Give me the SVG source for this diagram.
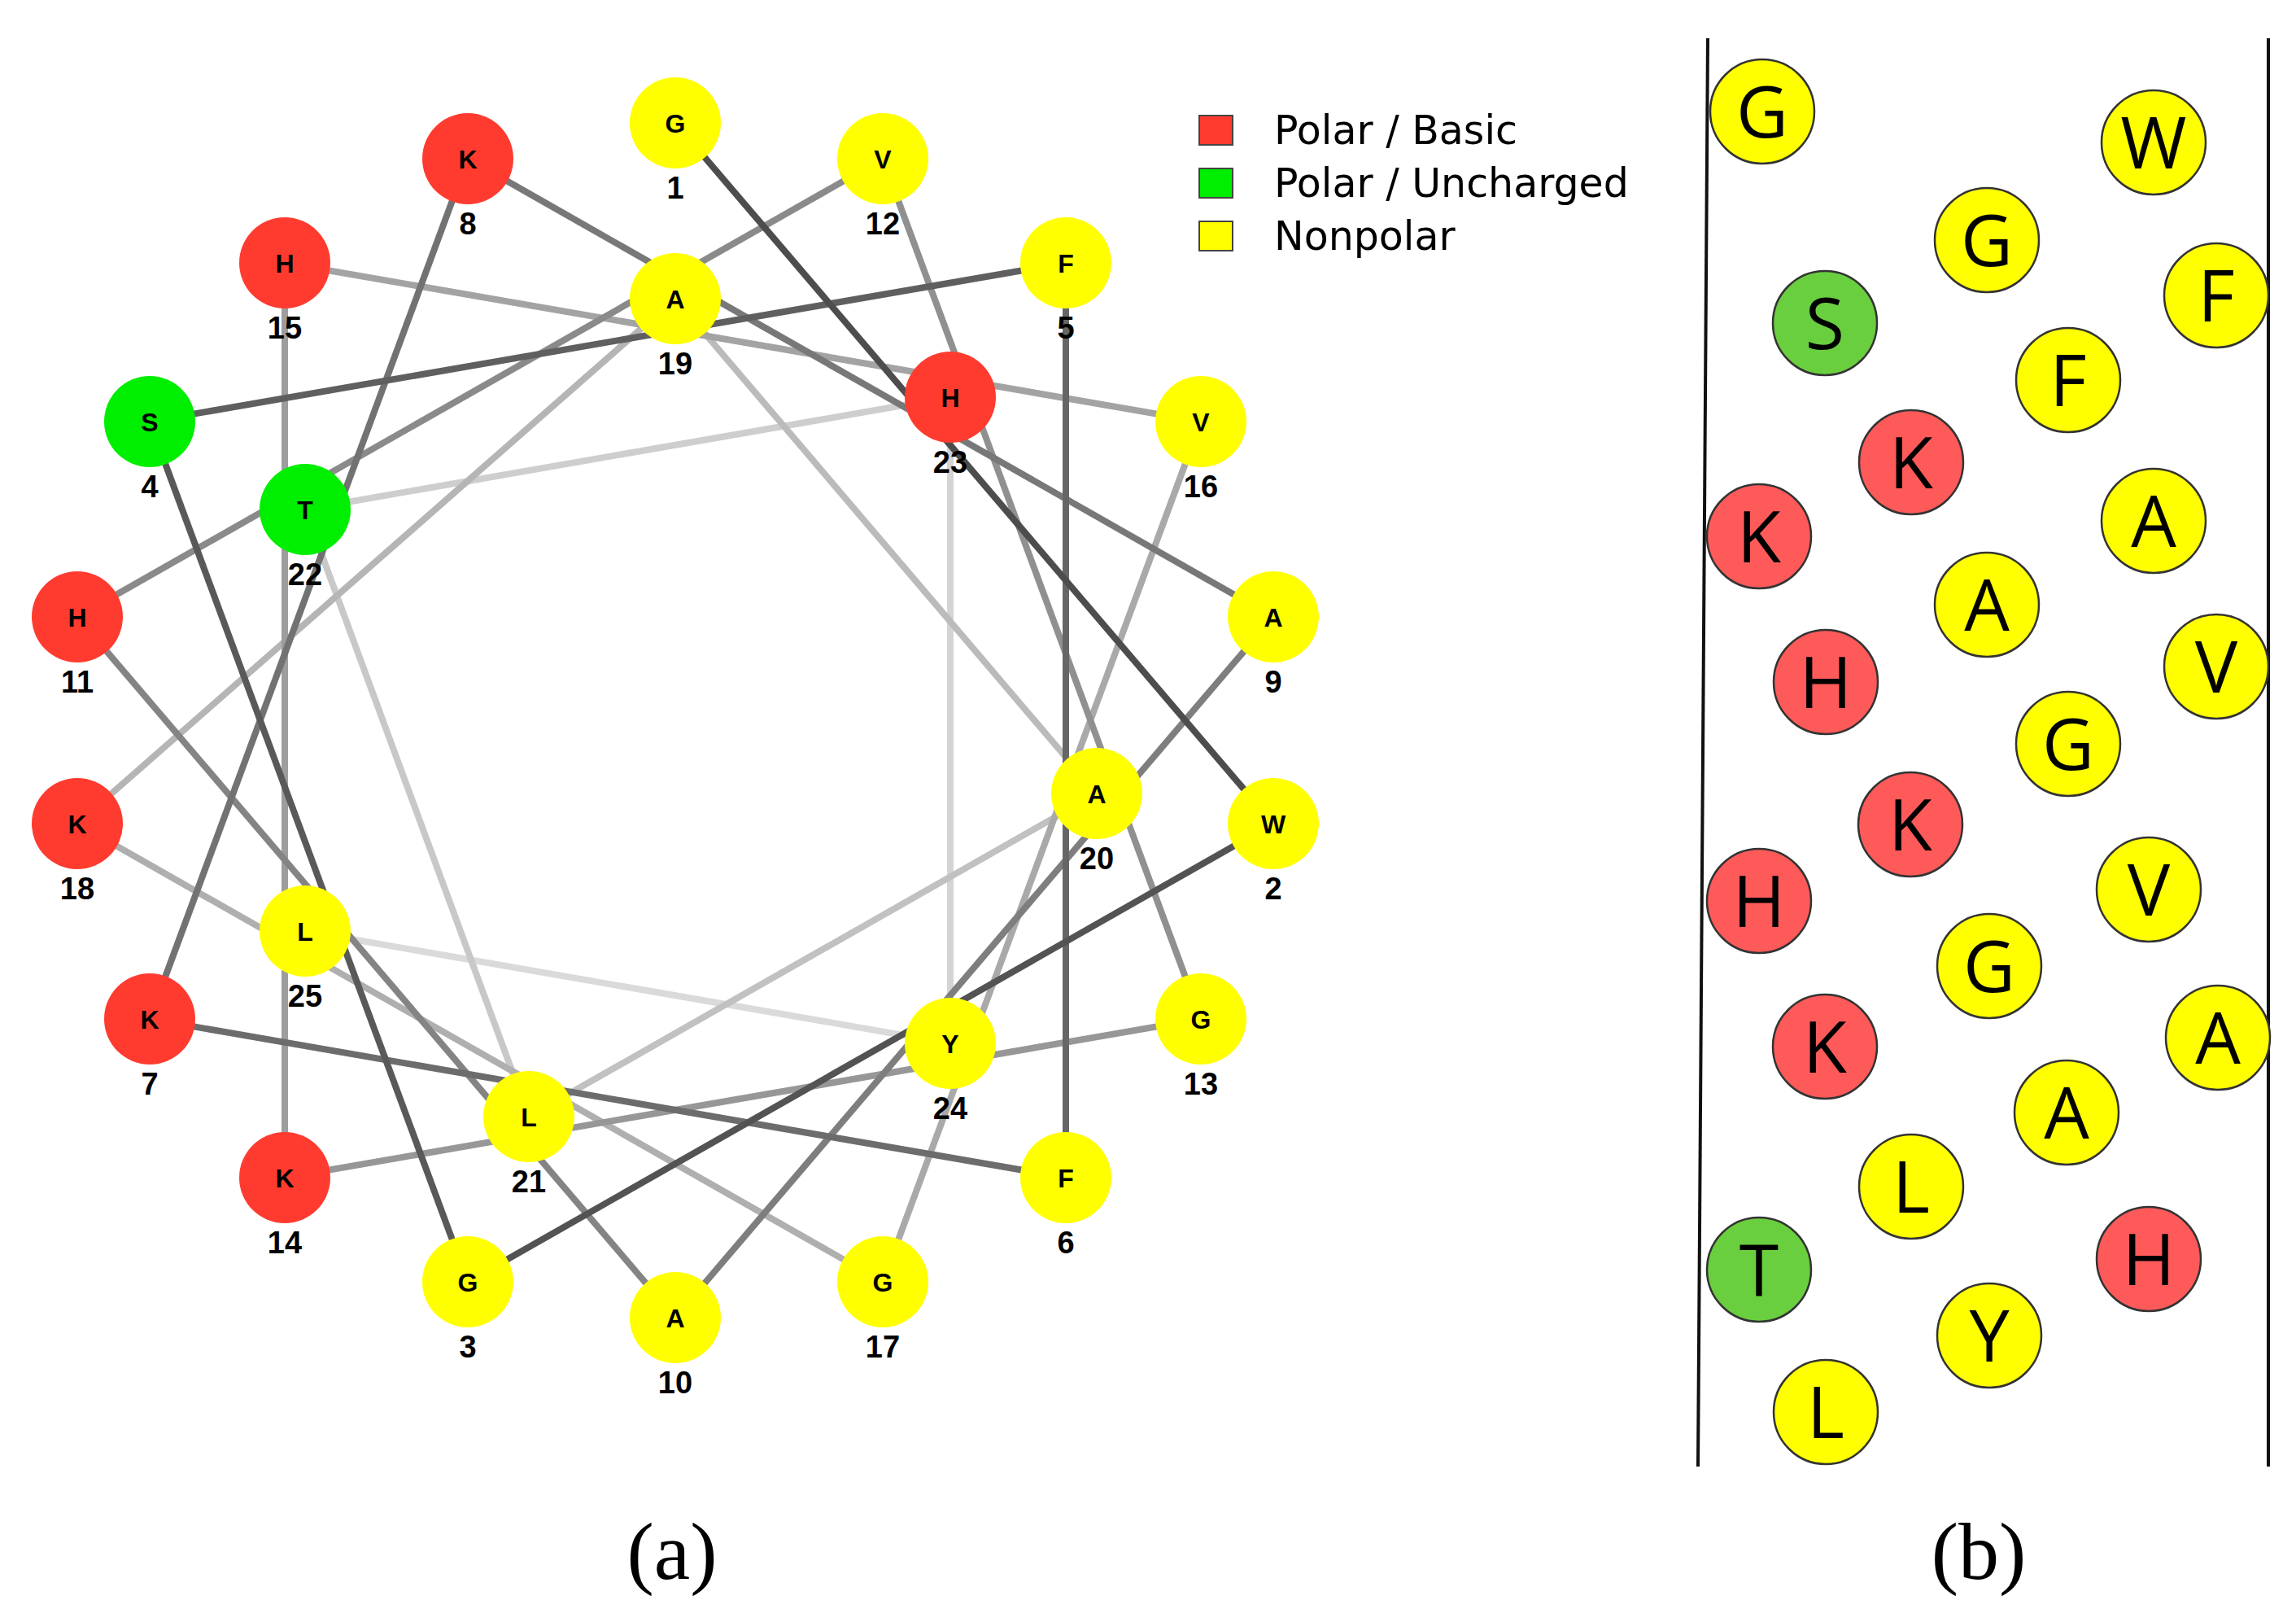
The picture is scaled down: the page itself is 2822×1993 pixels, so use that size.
<svg xmlns="http://www.w3.org/2000/svg" width="2822" height="1993" viewBox="0 0 2822 1993">
<style>
.e{stroke-width:8;stroke-linecap:butt;fill:none}
.n{stroke:none}
.r{fill:#ff3b2f}
.g{fill:#00ee00}
.y{fill:#ffff00}
.lt{font-family:"Liberation Sans",Arial,sans-serif;font-weight:bold;font-size:32px;text-anchor:middle;fill:#000}
.nt{font-family:"Liberation Sans",Arial,sans-serif;font-weight:bold;font-size:38px;text-anchor:middle;fill:#000}
.leg{font-family:"DejaVu Sans","Liberation Sans",sans-serif;font-size:49px;fill:#000}
.sq{stroke:#444;stroke-width:2}
.b{stroke:#333;stroke-width:2.5}
.br{fill:#ff5a5a}
.bg{fill:#6acf3f}
.by{fill:#ffff00}
.bt{font-family:"Open Sans","Noto Sans",sans-serif;font-size:88px;text-anchor:middle;fill:#000}
.cap{font-family:"Liberation Serif","Times New Roman",serif;font-size:100px;text-anchor:middle;fill:#000}
.mem{stroke:#111;stroke-width:4}
</style>
<rect width="2822" height="1993" fill="#fff"/>
<g id="connectors">
<line class="e" stroke="#dadada" x1="1168" y1="1282" x2="375" y2="1144"/>
<line class="e" stroke="#d4d4d4" x1="1168" y1="488" x2="1168" y2="1282"/>
<line class="e" stroke="#cecece" x1="375" y1="626" x2="1168" y2="488"/>
<line class="e" stroke="#c8c8c8" x1="650" y1="1372" x2="375" y2="626"/>
<line class="e" stroke="#c1c1c1" x1="1348" y1="975" x2="650" y2="1372"/>
<line class="e" stroke="#bbbbbb" x1="830" y1="367" x2="1348" y2="975"/>
<line class="e" stroke="#b5b5b5" x1="95" y1="1012" x2="830" y2="367"/>
<line class="e" stroke="#afafaf" x1="1085" y1="1575" x2="95" y2="1012"/>
<line class="e" stroke="#a9a9a9" x1="1476" y1="518" x2="1085" y2="1575"/>
<line class="e" stroke="#a3a3a3" x1="350" y1="323" x2="1476" y2="518"/>
<line class="e" stroke="#9d9d9d" x1="350" y1="1447" x2="350" y2="323"/>
<line class="e" stroke="#979797" x1="1476" y1="1252" x2="350" y2="1447"/>
<line class="e" stroke="#909090" x1="1085" y1="195" x2="1476" y2="1252"/>
<line class="e" stroke="#8a8a8a" x1="95" y1="758" x2="1085" y2="195"/>
<line class="e" stroke="#848484" x1="830" y1="1619" x2="95" y2="758"/>
<line class="e" stroke="#7e7e7e" x1="1565" y1="758" x2="830" y2="1619"/>
<line class="e" stroke="#787878" x1="575" y1="195" x2="1565" y2="758"/>
<line class="e" stroke="#727272" x1="184" y1="1252" x2="575" y2="195"/>
<line class="e" stroke="#6c6c6c" x1="1310" y1="1447" x2="184" y2="1252"/>
<line class="e" stroke="#666666" x1="1310" y1="323" x2="1310" y2="1447"/>
<line class="e" stroke="#5f5f5f" x1="184" y1="518" x2="1310" y2="323"/>
<line class="e" stroke="#595959" x1="575" y1="1575" x2="184" y2="518"/>
<line class="e" stroke="#535353" x1="1565" y1="1012" x2="575" y2="1575"/>
<line class="e" stroke="#4d4d4d" x1="830" y1="151" x2="1565" y2="1012"/>
</g>
<g id="r1"><circle class="n y" cx="830" cy="151" r="56"/><text class="lt" x="830" y="163">G</text><text class="nt" x="830" y="244">1</text></g>
<g id="r2"><circle class="n y" cx="1565" cy="1012" r="56"/><text class="lt" x="1565" y="1024">W</text><text class="nt" x="1565" y="1105">2</text></g>
<g id="r3"><circle class="n y" cx="575" cy="1575" r="56"/><text class="lt" x="575" y="1587">G</text><text class="nt" x="575" y="1668">3</text></g>
<g id="r4"><circle class="n g" cx="184" cy="518" r="56"/><text class="lt" x="184" y="530">S</text><text class="nt" x="184" y="611">4</text></g>
<g id="r5"><circle class="n y" cx="1310" cy="323" r="56"/><text class="lt" x="1310" y="335">F</text><text class="nt" x="1310" y="416">5</text></g>
<g id="r6"><circle class="n y" cx="1310" cy="1447" r="56"/><text class="lt" x="1310" y="1459">F</text><text class="nt" x="1310" y="1540">6</text></g>
<g id="r7"><circle class="n r" cx="184" cy="1252" r="56"/><text class="lt" x="184" y="1264">K</text><text class="nt" x="184" y="1345">7</text></g>
<g id="r8"><circle class="n r" cx="575" cy="195" r="56"/><text class="lt" x="575" y="207">K</text><text class="nt" x="575" y="288">8</text></g>
<g id="r9"><circle class="n y" cx="1565" cy="758" r="56"/><text class="lt" x="1565" y="770">A</text><text class="nt" x="1565" y="851">9</text></g>
<g id="r10"><circle class="n y" cx="830" cy="1619" r="56"/><text class="lt" x="830" y="1631">A</text><text class="nt" x="830" y="1712">10</text></g>
<g id="r11"><circle class="n r" cx="95" cy="758" r="56"/><text class="lt" x="95" y="770">H</text><text class="nt" x="95" y="851">11</text></g>
<g id="r12"><circle class="n y" cx="1085" cy="195" r="56"/><text class="lt" x="1085" y="207">V</text><text class="nt" x="1085" y="288">12</text></g>
<g id="r13"><circle class="n y" cx="1476" cy="1252" r="56"/><text class="lt" x="1476" y="1264">G</text><text class="nt" x="1476" y="1345">13</text></g>
<g id="r14"><circle class="n r" cx="350" cy="1447" r="56"/><text class="lt" x="350" y="1459">K</text><text class="nt" x="350" y="1540">14</text></g>
<g id="r15"><circle class="n r" cx="350" cy="323" r="56"/><text class="lt" x="350" y="335">H</text><text class="nt" x="350" y="416">15</text></g>
<g id="r16"><circle class="n y" cx="1476" cy="518" r="56"/><text class="lt" x="1476" y="530">V</text><text class="nt" x="1476" y="611">16</text></g>
<g id="r17"><circle class="n y" cx="1085" cy="1575" r="56"/><text class="lt" x="1085" y="1587">G</text><text class="nt" x="1085" y="1668">17</text></g>
<g id="r18"><circle class="n r" cx="95" cy="1012" r="56"/><text class="lt" x="95" y="1024">K</text><text class="nt" x="95" y="1105">18</text></g>
<g id="r19"><circle class="n y" cx="830" cy="367" r="56"/><text class="lt" x="830" y="379">A</text><text class="nt" x="830" y="460">19</text></g>
<g id="r20"><circle class="n y" cx="1348" cy="975" r="56"/><text class="lt" x="1348" y="987">A</text><text class="nt" x="1348" y="1068">20</text></g>
<g id="r21"><circle class="n y" cx="650" cy="1372" r="56"/><text class="lt" x="650" y="1384">L</text><text class="nt" x="650" y="1465">21</text></g>
<g id="r22"><circle class="n g" cx="375" cy="626" r="56"/><text class="lt" x="375" y="638">T</text><text class="nt" x="375" y="719">22</text></g>
<g id="r23"><circle class="n r" cx="1168" cy="488" r="56"/><text class="lt" x="1168" y="500">H</text><text class="nt" x="1168" y="581">23</text></g>
<g id="r24"><circle class="n y" cx="1168" cy="1282" r="56"/><text class="lt" x="1168" y="1294">Y</text><text class="nt" x="1168" y="1375">24</text></g>
<g id="r25"><circle class="n y" cx="375" cy="1144" r="56"/><text class="lt" x="375" y="1156">L</text><text class="nt" x="375" y="1237">25</text></g>
<g id="legend">
<rect class="sq" x="1474" y="142" width="41" height="36" fill="#ff3b2f"/>
<rect class="sq" x="1474" y="207" width="41" height="36" fill="#00ee00"/>
<rect class="sq" x="1474" y="272" width="41" height="36" fill="#ffff00"/>
<text class="leg" x="1566" y="177">Polar / Basic</text>
<text class="leg" x="1566" y="242">Polar / Uncharged</text>
<text class="leg" x="1566" y="307">Nonpolar</text>
</g>
<g id="membrane">
<line class="mem" x1="2099" y1="47" x2="2087" y2="1802"/>
<line class="mem" x1="2788" y1="47" x2="2788" y2="1802"/>
</g>
<g id="b1"><circle class="b by" cx="2166" cy="137" r="64"/><text class="bt" x="2166" y="169">G</text></g>
<g id="b2"><circle class="b by" cx="2647" cy="175" r="64"/><text class="bt" x="2647" y="207">W</text></g>
<g id="b3"><circle class="b by" cx="2442" cy="295" r="64"/><text class="bt" x="2442" y="327">G</text></g>
<g id="b4"><circle class="b by" cx="2724" cy="363" r="64"/><text class="bt" x="2724" y="395">F</text></g>
<g id="b5"><circle class="b bg" cx="2243" cy="397" r="64"/><text class="bt" x="2243" y="429">S</text></g>
<g id="b6"><circle class="b by" cx="2542" cy="467" r="64"/><text class="bt" x="2542" y="499">F</text></g>
<g id="b7"><circle class="b br" cx="2349" cy="568" r="64"/><text class="bt" x="2349" y="600">K</text></g>
<g id="b8"><circle class="b br" cx="2162" cy="659" r="64"/><text class="bt" x="2162" y="691">K</text></g>
<g id="b9"><circle class="b by" cx="2647" cy="640" r="64"/><text class="bt" x="2647" y="672">A</text></g>
<g id="b10"><circle class="b by" cx="2442" cy="743" r="64"/><text class="bt" x="2442" y="775">A</text></g>
<g id="b11"><circle class="b br" cx="2244" cy="838" r="64"/><text class="bt" x="2244" y="870">H</text></g>
<g id="b12"><circle class="b by" cx="2724" cy="819" r="64"/><text class="bt" x="2724" y="851">V</text></g>
<g id="b13"><circle class="b by" cx="2542" cy="914" r="64"/><text class="bt" x="2542" y="946">G</text></g>
<g id="b14"><circle class="b br" cx="2348" cy="1013" r="64"/><text class="bt" x="2348" y="1045">K</text></g>
<g id="b15"><circle class="b br" cx="2162" cy="1107" r="64"/><text class="bt" x="2162" y="1139">H</text></g>
<g id="b16"><circle class="b by" cx="2641" cy="1093" r="64"/><text class="bt" x="2641" y="1125">V</text></g>
<g id="b17"><circle class="b by" cx="2445" cy="1187" r="64"/><text class="bt" x="2445" y="1219">G</text></g>
<g id="b18"><circle class="b br" cx="2243" cy="1286" r="64"/><text class="bt" x="2243" y="1318">K</text></g>
<g id="b19"><circle class="b by" cx="2726" cy="1275" r="64"/><text class="bt" x="2726" y="1307">A</text></g>
<g id="b20"><circle class="b by" cx="2540" cy="1367" r="64"/><text class="bt" x="2540" y="1399">A</text></g>
<g id="b21"><circle class="b by" cx="2349" cy="1458" r="64"/><text class="bt" x="2349" y="1490">L</text></g>
<g id="b22"><circle class="b bg" cx="2162" cy="1560" r="64"/><text class="bt" x="2162" y="1592">T</text></g>
<g id="b23"><circle class="b br" cx="2641" cy="1547" r="64"/><text class="bt" x="2641" y="1579">H</text></g>
<g id="b24"><circle class="b by" cx="2445" cy="1641" r="64"/><text class="bt" x="2445" y="1673">Y</text></g>
<g id="b25"><circle class="b by" cx="2244" cy="1735" r="64"/><text class="bt" x="2244" y="1767">L</text></g>
<text class="cap" x="826" y="1940">(a)</text>
<text class="cap" x="2432" y="1940">(b)</text>
</svg>
